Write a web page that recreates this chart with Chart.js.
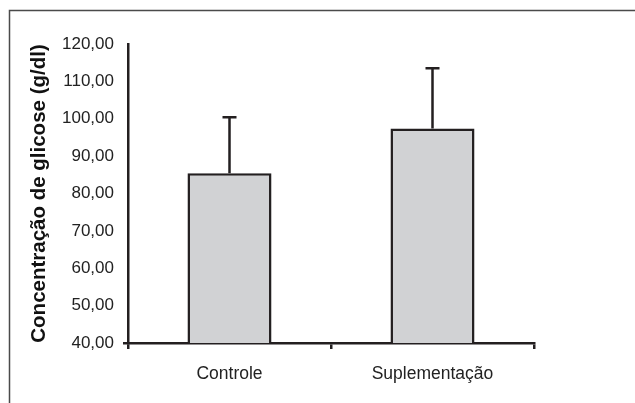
<!DOCTYPE html>
<html><head><meta charset="utf-8">
<script src="https://cdn.jsdelivr.net/npm/chart.js@4"></script>
<style>html,body{margin:0;padding:0;background:#fff}#wrap{width:635px;height:403px}</style>
</head><body><div id="wrap"><canvas id="c" width="635" height="403"></canvas></div>
<script>
const categories = ['Controle', 'Suplementação'];
const means = [85.4, 97.4];
const errors = [15.0, 16.1];
const yMin = 40, yMax = 120, yStep = 10;
const yTitle = 'Concentração de glicose (g/dl)';

const ink = '#231f20';

const frame = {
  id: 'frame',
  beforeDraw(chart) {
    const ctx = chart.ctx;
    ctx.save();
    ctx.strokeStyle = '#4a4a4a';
    ctx.lineWidth = 1.5;
    ctx.beginPath();
    ctx.moveTo(9.5, 403);
    ctx.lineTo(9.5, 10.5);
    ctx.lineTo(635, 10.5);
    ctx.stroke();
    ctx.restore();
  }
};

const errBars = {
  id: 'errBars',
  afterDatasetsDraw(chart) {
    const ctx = chart.ctx;
    const meta = chart.getDatasetMeta(0);
    const y = chart.scales.y;
    ctx.save();
    ctx.strokeStyle = ink;
    ctx.lineWidth = 2.5;
    meta.data.forEach((bar, i) => {
      const x = bar.x;
      const y0 = y.getPixelForValue(means[i]);
      const y1 = y.getPixelForValue(means[i] + errors[i]);
      ctx.beginPath();
      ctx.moveTo(x, y0);
      ctx.lineTo(x, y1);
      ctx.moveTo(x - 7, y1);
      ctx.lineTo(x + 7, y1);
      ctx.stroke();
    });
    ctx.restore();
  }
};

new Chart(document.getElementById('c'), {
  type: 'bar',
  data: {
    labels: categories,
    datasets: [{
      data: means,
      backgroundColor: '#d1d2d4',
      borderColor: ink,
      borderWidth: 2.5,
      borderSkipped: false,
      categoryPercentage: 1,
      barPercentage: 0.414
    }]
  },
  options: {
    responsive: false,
    animation: false,
    layout: { padding: { left: 0, top: 44, right: 101, bottom: 0 } },
    plugins: { legend: { display: false }, tooltip: { enabled: false } },
    scales: {
      x: {
        offset: true,
        grid: { offset: true, drawOnChartArea: false, color: ink, lineWidth: 2.5, tickLength: 6 },
        border: { color: ink, width: 2.5 },
        ticks: { color: '#222', font: { family: 'Liberation Sans, Arial', size: 17.5 }, padding: 15 },
        afterFit(s) { s.height = 60; }
      },
      y: {
        min: yMin, max: yMax,
        ticks: {
          stepSize: yStep, color: '#222', padding: 9,
          font: { family: 'Liberation Sans, Arial', size: 17 },
          callback: v => v.toFixed(2).replace('.', ',')
        },
        grid: {
          drawOnChartArea: false, tickLength: 5, lineWidth: 2.5,
          color: c => (c.tick && c.tick.value === yMin) ? ink : 'rgba(0,0,0,0)'
        },
        border: { color: ink, width: 2.5 },
        title: {
          display: true, text: yTitle, color: '#111',
          font: { family: 'Liberation Sans, Arial', size: 20.5, weight: 'bold' },
          padding: { top: 27, bottom: 0 }
        },
        afterFit(s) { s.width = 128; }
      }
    }
  },
  plugins: [frame, errBars]
});
</script></body></html>
